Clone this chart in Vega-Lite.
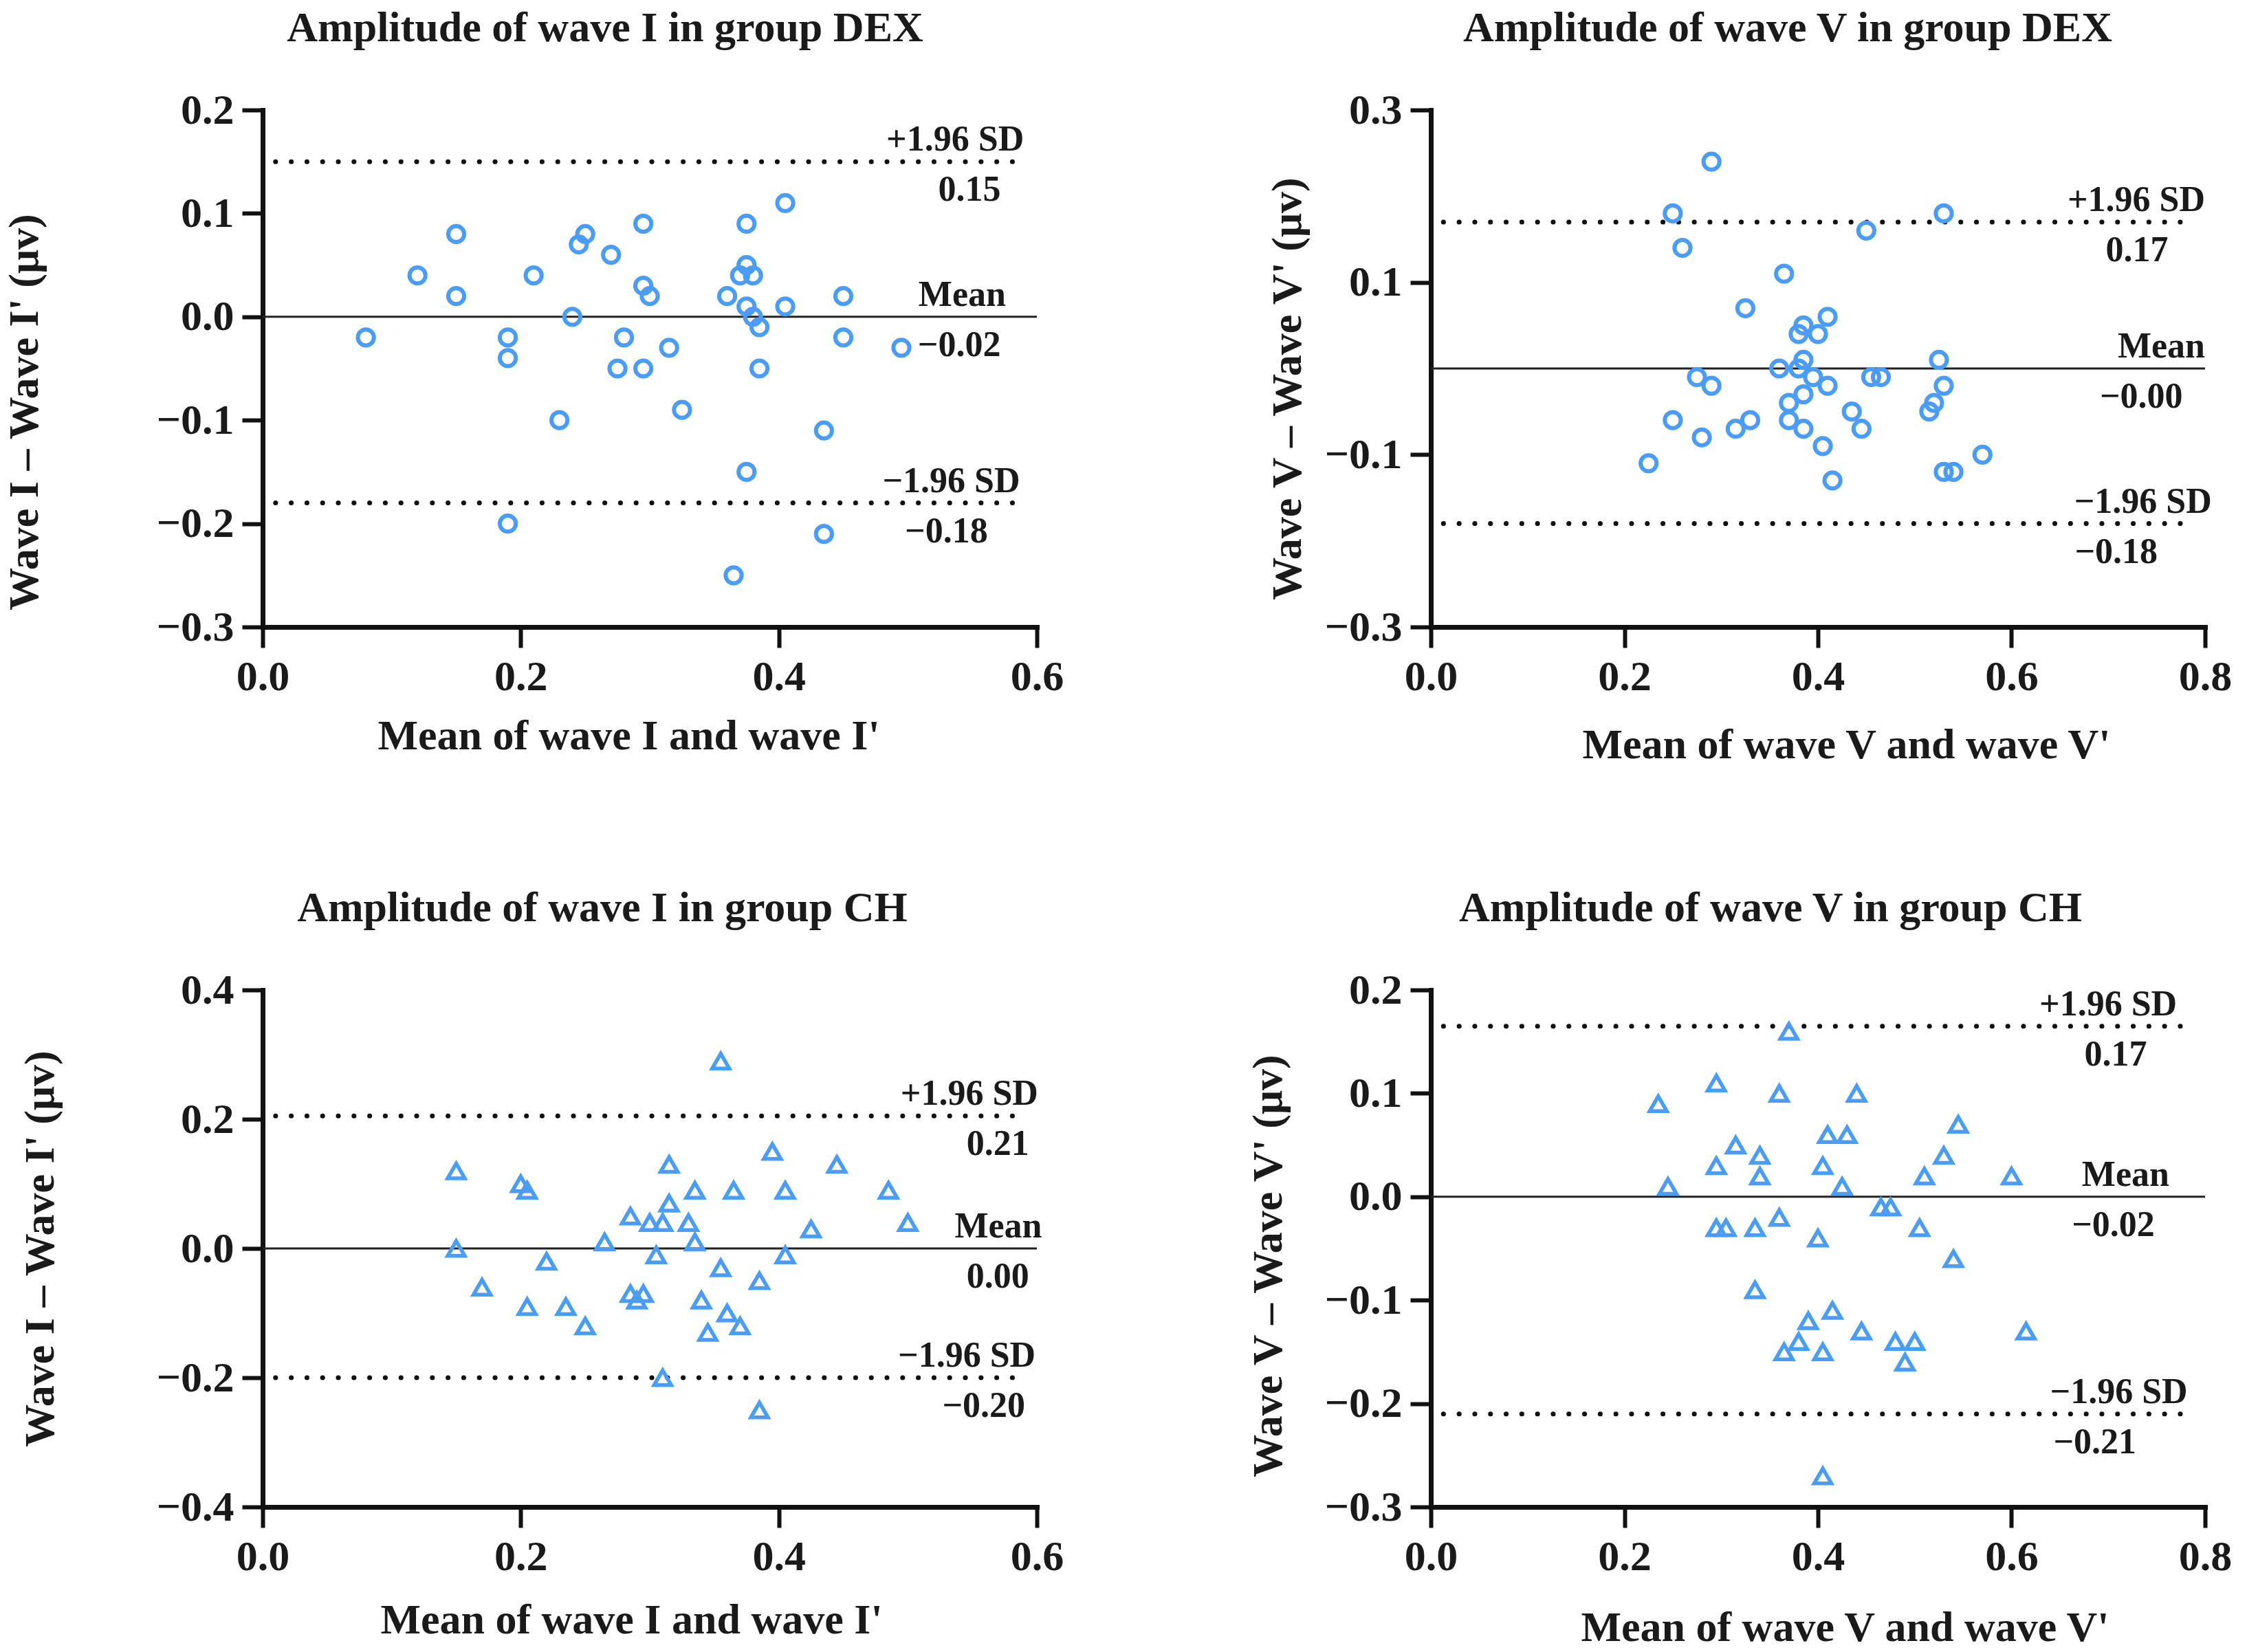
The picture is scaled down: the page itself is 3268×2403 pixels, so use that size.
{
  "$schema": "https://vega.github.io/schema/vega-lite/v6.json",
  "background": "white",
  "padding": {"left": 4, "top": 10, "right": 5, "bottom": 5},
  "bounds": "flush",
  "columns": 2,
  "spacing": {"row": 528, "column": 573},
  "concat": [
    {
      "width": 1126,
      "height": 752,
      "title": {"text": "Amplitude of wave I in group DEX", "frame": "group", "dx": -65, "offset": 56},
      "encoding": {
        "x": {"field": "x", "type": "quantitative", "scale": {"domain": [0, 0.6]},
          "axis": {"values": [0, 0.2, 0.4, 0.6], "format": ".1f", "titlePadding": 25, "titleX": 532},
          "title": "Mean of wave I and wave I'"},
        "y": {"field": "y", "type": "quantitative", "scale": {"domain": [-0.3, 0.2]},
          "axis": {"values": [-0.3, -0.2, -0.1, 0, 0.1, 0.2], "format": ".1f", "titlePadding": 160, "titleY": 439},
          "title": "Wave I – Wave I' (μv)"}
      },
      "layer": [
        {
          "data": {"values": [{"y": 0, "x": 0, "x2": 0.6}]},
          "mark": {"type": "rule", "color": "#222222", "strokeWidth": 3},
          "encoding": {"x2": {"field": "x2"}}
        },
        {
          "data": {"values": [{"y": 0.15, "x": 0.01, "x2": 0.59}, {"y": -0.18, "x": 0.01, "x2": 0.59}]},
          "mark": {"type": "rule", "color": "#111111", "strokeWidth": 7, "strokeCap": "round", "strokeDash": [0.1, 22.7]},
          "encoding": {"x2": {"field": "x2"}}
        },
        {
          "data": {"values": [
            {"x": 0.08, "y": -0.02}, {"x": 0.12, "y": 0.04}, {"x": 0.15, "y": 0.08}, {"x": 0.15, "y": 0.02},
            {"x": 0.19, "y": -0.02}, {"x": 0.19, "y": -0.04}, {"x": 0.19, "y": -0.2}, {"x": 0.21, "y": 0.04},
            {"x": 0.23, "y": -0.1}, {"x": 0.24, "y": 0.0}, {"x": 0.245, "y": 0.07}, {"x": 0.25, "y": 0.08},
            {"x": 0.27, "y": 0.06}, {"x": 0.275, "y": -0.05}, {"x": 0.28, "y": -0.02}, {"x": 0.295, "y": 0.09},
            {"x": 0.295, "y": 0.03}, {"x": 0.3, "y": 0.02}, {"x": 0.295, "y": -0.05}, {"x": 0.315, "y": -0.03},
            {"x": 0.325, "y": -0.09}, {"x": 0.36, "y": 0.02}, {"x": 0.365, "y": -0.25}, {"x": 0.375, "y": 0.09},
            {"x": 0.375, "y": 0.05}, {"x": 0.37, "y": 0.04}, {"x": 0.38, "y": 0.04}, {"x": 0.375, "y": 0.01},
            {"x": 0.38, "y": 0.0}, {"x": 0.385, "y": -0.01}, {"x": 0.385, "y": -0.05}, {"x": 0.375, "y": -0.15},
            {"x": 0.405, "y": 0.11}, {"x": 0.405, "y": 0.01}, {"x": 0.435, "y": -0.11}, {"x": 0.435, "y": -0.21},
            {"x": 0.45, "y": 0.02}, {"x": 0.45, "y": -0.02}, {"x": 0.495, "y": -0.03}
          ]},
          "mark": {"type": "point", "shape": "circle", "filled": false, "size": 540, "strokeWidth": 6, "color": "#4a9cf5", "opacity": 1}
        },
        {
          "data": {"values": [
            {"label": "+1.96 SD", "x": 0.59, "y": 0.15},
            {"label": "Mean", "x": 0.576, "y": 0},
            {"label": "−1.96 SD", "x": 0.587, "y": -0.18}
          ]},
          "mark": {"type": "text", "align": "right", "baseline": "alphabetic", "dy": -16, "font": "Liberation Serif", "fontWeight": "bold", "fontSize": 52, "color": "#1a1a1a"},
          "encoding": {"text": {"field": "label"}}
        },
        {
          "data": {"values": [
            {"label": "0.15", "x": 0.572, "y": 0.15},
            {"label": "−0.02", "x": 0.572, "y": 0},
            {"label": "−0.18", "x": 0.562, "y": -0.18}
          ]},
          "mark": {"type": "text", "align": "right", "baseline": "alphabetic", "dy": 57, "font": "Liberation Serif", "fontWeight": "bold", "fontSize": 52, "color": "#1a1a1a"},
          "encoding": {"text": {"field": "label"}}
        }
      ]
    },
    {
      "width": 1126,
      "height": 752,
      "title": {"text": "Amplitude of wave V in group DEX", "frame": "group", "dx": -44, "offset": 56},
      "encoding": {
        "x": {"field": "x", "type": "quantitative", "scale": {"domain": [0, 0.8]},
          "axis": {"values": [0, 0.2, 0.4, 0.6, 0.8], "format": ".1f", "titlePadding": 38, "titleX": 604},
          "title": "Mean of wave V and wave V'"},
        "y": {"field": "y", "type": "quantitative", "scale": {"domain": [-0.3, 0.3]},
          "axis": {"values": [-0.3, -0.1, 0.1, 0.3], "format": ".1f", "titlePadding": 22, "titleY": 405},
          "title": "Wave V – Wave V' (μv)"}
      },
      "layer": [
        {
          "data": {"values": [{"y": 0, "x": 0, "x2": 0.8}]},
          "mark": {"type": "rule", "color": "#222222", "strokeWidth": 3},
          "encoding": {"x2": {"field": "x2"}}
        },
        {
          "data": {"values": [{"y": 0.17, "x": 0.013, "x2": 0.787}, {"y": -0.18, "x": 0.013, "x2": 0.787}]},
          "mark": {"type": "rule", "color": "#111111", "strokeWidth": 7, "strokeCap": "round", "strokeDash": [0.1, 22.7]},
          "encoding": {"x2": {"field": "x2"}}
        },
        {
          "data": {"values": [
            {"x": 0.29, "y": 0.24}, {"x": 0.25, "y": 0.18}, {"x": 0.26, "y": 0.14}, {"x": 0.53, "y": 0.18},
            {"x": 0.45, "y": 0.16}, {"x": 0.365, "y": 0.11}, {"x": 0.325, "y": 0.07}, {"x": 0.41, "y": 0.06},
            {"x": 0.385, "y": 0.05}, {"x": 0.38, "y": 0.04}, {"x": 0.4, "y": 0.04}, {"x": 0.385, "y": 0.01},
            {"x": 0.525, "y": 0.01}, {"x": 0.36, "y": 0.0}, {"x": 0.38, "y": 0.0}, {"x": 0.395, "y": -0.01},
            {"x": 0.275, "y": -0.01}, {"x": 0.29, "y": -0.02}, {"x": 0.41, "y": -0.02}, {"x": 0.385, "y": -0.03},
            {"x": 0.37, "y": -0.04}, {"x": 0.455, "y": -0.01}, {"x": 0.465, "y": -0.01}, {"x": 0.53, "y": -0.02},
            {"x": 0.52, "y": -0.04}, {"x": 0.515, "y": -0.05}, {"x": 0.435, "y": -0.05}, {"x": 0.25, "y": -0.06},
            {"x": 0.33, "y": -0.06}, {"x": 0.37, "y": -0.06}, {"x": 0.315, "y": -0.07}, {"x": 0.385, "y": -0.07},
            {"x": 0.445, "y": -0.07}, {"x": 0.28, "y": -0.08}, {"x": 0.405, "y": -0.09}, {"x": 0.57, "y": -0.1},
            {"x": 0.225, "y": -0.11}, {"x": 0.415, "y": -0.13}, {"x": 0.53, "y": -0.12}, {"x": 0.54, "y": -0.12}
          ]},
          "mark": {"type": "point", "shape": "circle", "filled": false, "size": 540, "strokeWidth": 6, "color": "#4a9cf5", "opacity": 1}
        },
        {
          "data": {"values": [
            {"label": "+1.96 SD", "x": 0.8, "y": 0.17},
            {"label": "Mean", "x": 0.8, "y": 0},
            {"label": "−1.96 SD", "x": 0.807, "y": -0.18}
          ]},
          "mark": {"type": "text", "align": "right", "baseline": "alphabetic", "dy": -16, "font": "Liberation Serif", "fontWeight": "bold", "fontSize": 52, "color": "#1a1a1a"},
          "encoding": {"text": {"field": "label"}}
        },
        {
          "data": {"values": [
            {"label": "0.17", "x": 0.762, "y": 0.17},
            {"label": "−0.00", "x": 0.777, "y": 0},
            {"label": "−0.18", "x": 0.751, "y": -0.18}
          ]},
          "mark": {"type": "text", "align": "right", "baseline": "alphabetic", "dy": 57, "font": "Liberation Serif", "fontWeight": "bold", "fontSize": 52, "color": "#1a1a1a"},
          "encoding": {"text": {"field": "label"}}
        }
      ]
    },
    {
      "width": 1126,
      "height": 752,
      "title": {"text": "Amplitude of wave I in group CH", "frame": "group", "dx": -69, "offset": 56},
      "encoding": {
        "x": {"field": "x", "type": "quantitative", "scale": {"domain": [0, 0.6]},
          "axis": {"values": [0, 0.2, 0.4, 0.6], "format": ".1f", "titlePadding": 31, "titleX": 536},
          "title": "Mean of wave I and wave I'"},
        "y": {"field": "y", "type": "quantitative", "scale": {"domain": [-0.4, 0.4]},
          "axis": {"values": [-0.4, -0.2, 0, 0.2, 0.4], "format": ".1f", "titlePadding": 137},
          "title": "Wave I – Wave I' (μv)"}
      },
      "layer": [
        {
          "data": {"values": [{"y": 0, "x": 0, "x2": 0.6}]},
          "mark": {"type": "rule", "color": "#222222", "strokeWidth": 3},
          "encoding": {"x2": {"field": "x2"}}
        },
        {
          "data": {"values": [{"y": 0.205, "x": 0.01, "x2": 0.59}, {"y": -0.2, "x": 0.01, "x2": 0.59}]},
          "mark": {"type": "rule", "color": "#111111", "strokeWidth": 7, "strokeCap": "round", "strokeDash": [0.1, 22.7]},
          "encoding": {"x2": {"field": "x2"}}
        },
        {
          "data": {"values": [
            {"x": 0.355, "y": 0.29}, {"x": 0.15, "y": 0.12}, {"x": 0.15, "y": 0.0}, {"x": 0.17, "y": -0.06},
            {"x": 0.2, "y": 0.1}, {"x": 0.205, "y": 0.09}, {"x": 0.205, "y": -0.09}, {"x": 0.22, "y": -0.02},
            {"x": 0.235, "y": -0.09}, {"x": 0.25, "y": -0.12}, {"x": 0.265, "y": 0.01}, {"x": 0.285, "y": 0.05},
            {"x": 0.285, "y": -0.07}, {"x": 0.29, "y": -0.08}, {"x": 0.295, "y": -0.07}, {"x": 0.3, "y": 0.04},
            {"x": 0.305, "y": -0.01}, {"x": 0.31, "y": 0.04}, {"x": 0.315, "y": 0.13}, {"x": 0.315, "y": 0.07},
            {"x": 0.31, "y": -0.2}, {"x": 0.33, "y": 0.04}, {"x": 0.335, "y": 0.01}, {"x": 0.335, "y": 0.09},
            {"x": 0.34, "y": -0.08}, {"x": 0.345, "y": -0.13}, {"x": 0.355, "y": -0.03}, {"x": 0.36, "y": -0.1},
            {"x": 0.365, "y": 0.09}, {"x": 0.37, "y": -0.12}, {"x": 0.385, "y": -0.05}, {"x": 0.385, "y": -0.25},
            {"x": 0.395, "y": 0.15}, {"x": 0.405, "y": 0.09}, {"x": 0.405, "y": -0.01}, {"x": 0.425, "y": 0.03},
            {"x": 0.445, "y": 0.13}, {"x": 0.485, "y": 0.09}, {"x": 0.5, "y": 0.04}
          ]},
          "mark": {"type": "point", "shape": "triangle-up", "filled": false, "size": 620, "strokeWidth": 5.5, "strokeJoin": "miter", "color": "#4a9cf5", "opacity": 1}
        },
        {
          "data": {"values": [
            {"label": "+1.96 SD", "x": 0.601, "y": 0.205},
            {"label": "Mean", "x": 0.604, "y": 0},
            {"label": "−1.96 SD", "x": 0.599, "y": -0.2}
          ]},
          "mark": {"type": "text", "align": "right", "baseline": "alphabetic", "dy": -16, "font": "Liberation Serif", "fontWeight": "bold", "fontSize": 52, "color": "#1a1a1a"},
          "encoding": {"text": {"field": "label"}}
        },
        {
          "data": {"values": [
            {"label": "0.21", "x": 0.594, "y": 0.205},
            {"label": "0.00", "x": 0.594, "y": 0},
            {"label": "−0.20", "x": 0.591, "y": -0.2}
          ]},
          "mark": {"type": "text", "align": "right", "baseline": "alphabetic", "dy": 57, "font": "Liberation Serif", "fontWeight": "bold", "fontSize": 52, "color": "#1a1a1a"},
          "encoding": {"text": {"field": "label"}}
        }
      ]
    },
    {
      "width": 1126,
      "height": 752,
      "title": {"text": "Amplitude of wave V in group CH", "frame": "group", "dx": -69, "offset": 56},
      "encoding": {
        "x": {"field": "x", "type": "quantitative", "scale": {"domain": [0, 0.8]},
          "axis": {"values": [0, 0.2, 0.4, 0.6, 0.8], "format": ".1f", "titlePadding": 42, "titleX": 602},
          "title": "Mean of wave V and wave V'"},
        "y": {"field": "y", "type": "quantitative", "scale": {"domain": [-0.3, 0.2]},
          "axis": {"values": [-0.3, -0.2, -0.1, 0, 0.1, 0.2], "format": ".1f", "titlePadding": 50, "titleY": 401},
          "title": "Wave V – Wave V' (μv)"}
      },
      "layer": [
        {
          "data": {"values": [{"y": 0, "x": 0, "x2": 0.8}]},
          "mark": {"type": "rule", "color": "#222222", "strokeWidth": 3},
          "encoding": {"x2": {"field": "x2"}}
        },
        {
          "data": {"values": [{"y": 0.165, "x": 0.013, "x2": 0.787}, {"y": -0.21, "x": 0.013, "x2": 0.787}]},
          "mark": {"type": "rule", "color": "#111111", "strokeWidth": 7, "strokeCap": "round", "strokeDash": [0.1, 22.7]},
          "encoding": {"x2": {"field": "x2"}}
        },
        {
          "data": {"values": [
            {"x": 0.37, "y": 0.16}, {"x": 0.235, "y": 0.09}, {"x": 0.245, "y": 0.01}, {"x": 0.295, "y": 0.11},
            {"x": 0.295, "y": 0.03}, {"x": 0.295, "y": -0.03}, {"x": 0.305, "y": -0.03}, {"x": 0.315, "y": 0.05},
            {"x": 0.34, "y": 0.04}, {"x": 0.34, "y": 0.02}, {"x": 0.335, "y": -0.03}, {"x": 0.335, "y": -0.09},
            {"x": 0.36, "y": 0.1}, {"x": 0.36, "y": -0.02}, {"x": 0.365, "y": -0.15}, {"x": 0.38, "y": -0.14},
            {"x": 0.39, "y": -0.12}, {"x": 0.4, "y": -0.04}, {"x": 0.405, "y": 0.03}, {"x": 0.405, "y": -0.15},
            {"x": 0.405, "y": -0.27}, {"x": 0.41, "y": 0.06}, {"x": 0.415, "y": -0.11}, {"x": 0.425, "y": 0.01},
            {"x": 0.43, "y": 0.06}, {"x": 0.44, "y": 0.1}, {"x": 0.445, "y": -0.13}, {"x": 0.465, "y": -0.01},
            {"x": 0.475, "y": -0.01}, {"x": 0.48, "y": -0.14}, {"x": 0.49, "y": -0.16}, {"x": 0.5, "y": -0.14},
            {"x": 0.505, "y": -0.03}, {"x": 0.51, "y": 0.02}, {"x": 0.53, "y": 0.04}, {"x": 0.54, "y": -0.06},
            {"x": 0.545, "y": 0.07}, {"x": 0.6, "y": 0.02}, {"x": 0.615, "y": -0.13}
          ]},
          "mark": {"type": "point", "shape": "triangle-up", "filled": false, "size": 620, "strokeWidth": 5.5, "strokeJoin": "miter", "color": "#4a9cf5", "opacity": 1}
        },
        {
          "data": {"values": [
            {"label": "+1.96 SD", "x": 0.771, "y": 0.165},
            {"label": "Mean", "x": 0.763, "y": 0},
            {"label": "−1.96 SD", "x": 0.782, "y": -0.21}
          ]},
          "mark": {"type": "text", "align": "right", "baseline": "alphabetic", "dy": -16, "font": "Liberation Serif", "fontWeight": "bold", "fontSize": 52, "color": "#1a1a1a"},
          "encoding": {"text": {"field": "label"}}
        },
        {
          "data": {"values": [
            {"label": "0.17", "x": 0.74, "y": 0.165},
            {"label": "−0.02", "x": 0.748, "y": 0},
            {"label": "−0.21", "x": 0.729, "y": -0.21}
          ]},
          "mark": {"type": "text", "align": "right", "baseline": "alphabetic", "dy": 57, "font": "Liberation Serif", "fontWeight": "bold", "fontSize": 52, "color": "#1a1a1a"},
          "encoding": {"text": {"field": "label"}}
        }
      ]
    }
  ],
  "config": {
    "view": {"stroke": null},
    "title": {"font": "Liberation Serif", "fontWeight": "bold", "fontSize": 62, "color": "#1a1a1a", "anchor": "middle"},
    "axis": {
      "grid": false,
      "domainColor": "#111111",
      "domainWidth": 7,
      "domainCap": "square",
      "tickColor": "#111111",
      "tickWidth": 6,
      "tickSize": 30,
      "labelFont": "Liberation Serif",
      "labelFontWeight": "bold",
      "labelFontSize": 62,
      "labelColor": "#1a1a1a",
      "labelPadding": 12,
      "labelFlush": false,
      "labelOverlap": false,
      "titleFont": "Liberation Serif",
      "titleFontWeight": "bold",
      "titleFontSize": 62,
      "titleColor": "#1a1a1a"
    }
  }
}
